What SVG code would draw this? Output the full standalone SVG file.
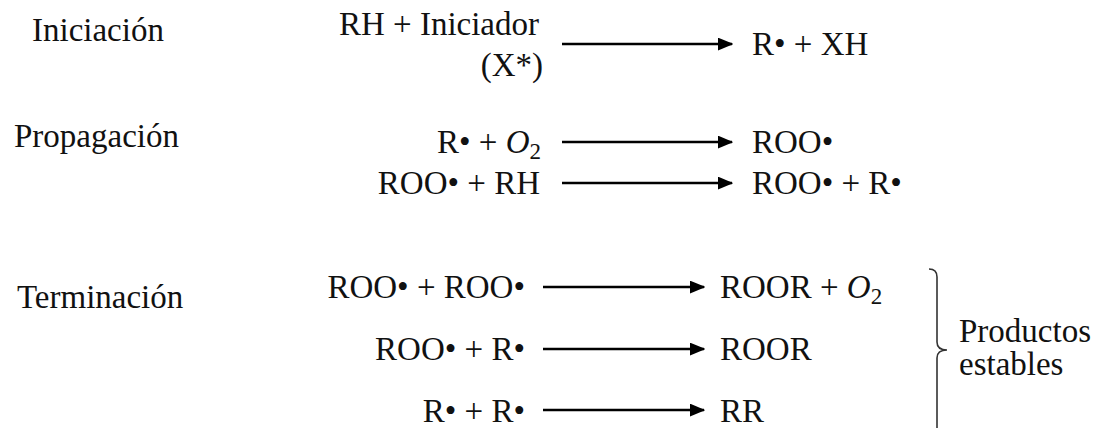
<svg xmlns="http://www.w3.org/2000/svg" width="1099" height="428" viewBox="0 0 1099 428">
<defs>
<marker id="ah" markerWidth="6" markerHeight="5" refX="5.5" refY="2.5" orient="auto" markerUnits="strokeWidth">
<path d="M0,0 L6,2.5 L0,5 Z" fill="#000"/>
</marker>
</defs>
<rect width="1099" height="428" fill="#fff"/>
<g font-family="Liberation Serif" font-size="33" fill="#111">
<g id="labels">
<text id="lbl-iniciacion" x="32" y="41">Iniciación</text>
<text id="lbl-propagacion" x="14" y="147">Propagación</text>
<text id="lbl-terminacion" x="17" y="308">Terminación</text>
</g>
<g id="r1-left" text-anchor="end"><text x="539" y="35">RH + Iniciador</text><text x="543" y="76">(X*)</text></g>
<g id="r1-right"><text x="752" y="55">R• + XH</text></g>
<g id="r2-left" text-anchor="end"><text x="541" y="153">R• + <tspan font-style="italic">O</tspan><tspan font-size="23" dy="6">2</tspan></text></g>
<g id="r2-right"><text x="752" y="153">ROO•</text></g>
<g id="r3-left" text-anchor="end"><text x="540" y="194">ROO• + RH</text></g>
<g id="r3-right"><text x="752" y="194">ROO• + R•</text></g>
<g id="r4-left" text-anchor="end"><text x="525" y="298">ROO• + ROO•</text></g>
<g id="r4-right"><text x="720" y="298">ROOR + <tspan font-style="italic">O</tspan><tspan font-size="23" dy="6">2</tspan></text></g>
<g id="r5-left" text-anchor="end"><text x="525" y="360">ROO• + R•</text></g>
<g id="r5-right"><text x="720" y="360">ROOR</text></g>
<g id="r6-left" text-anchor="end"><text x="525" y="422">R• + R•</text></g>
<g id="r6-right"><text x="720" y="422">RR</text></g>
<g id="productos"><text x="959" y="342">Productos</text><text x="959" y="375">estables</text></g>
</g>
<g id="connectors" stroke="#000" stroke-width="2.6" fill="none">
<line x1="562" y1="44" x2="732" y2="44" marker-end="url(#ah)"/>
<line x1="562" y1="142" x2="732" y2="142" marker-end="url(#ah)"/>
<line x1="562" y1="183" x2="732" y2="183" marker-end="url(#ah)"/>
<line x1="543" y1="287" x2="704" y2="287" marker-end="url(#ah)"/>
<line x1="543" y1="349" x2="704" y2="349" marker-end="url(#ah)"/>
<line x1="543" y1="410" x2="704" y2="410" marker-end="url(#ah)"/>
<path stroke="#333" stroke-width="1.6" d="M929,269 Q937,269 937,277 L937,342 Q937,350 947,350 Q937,350 937,358 L937,430"/>
</g>
</svg>
